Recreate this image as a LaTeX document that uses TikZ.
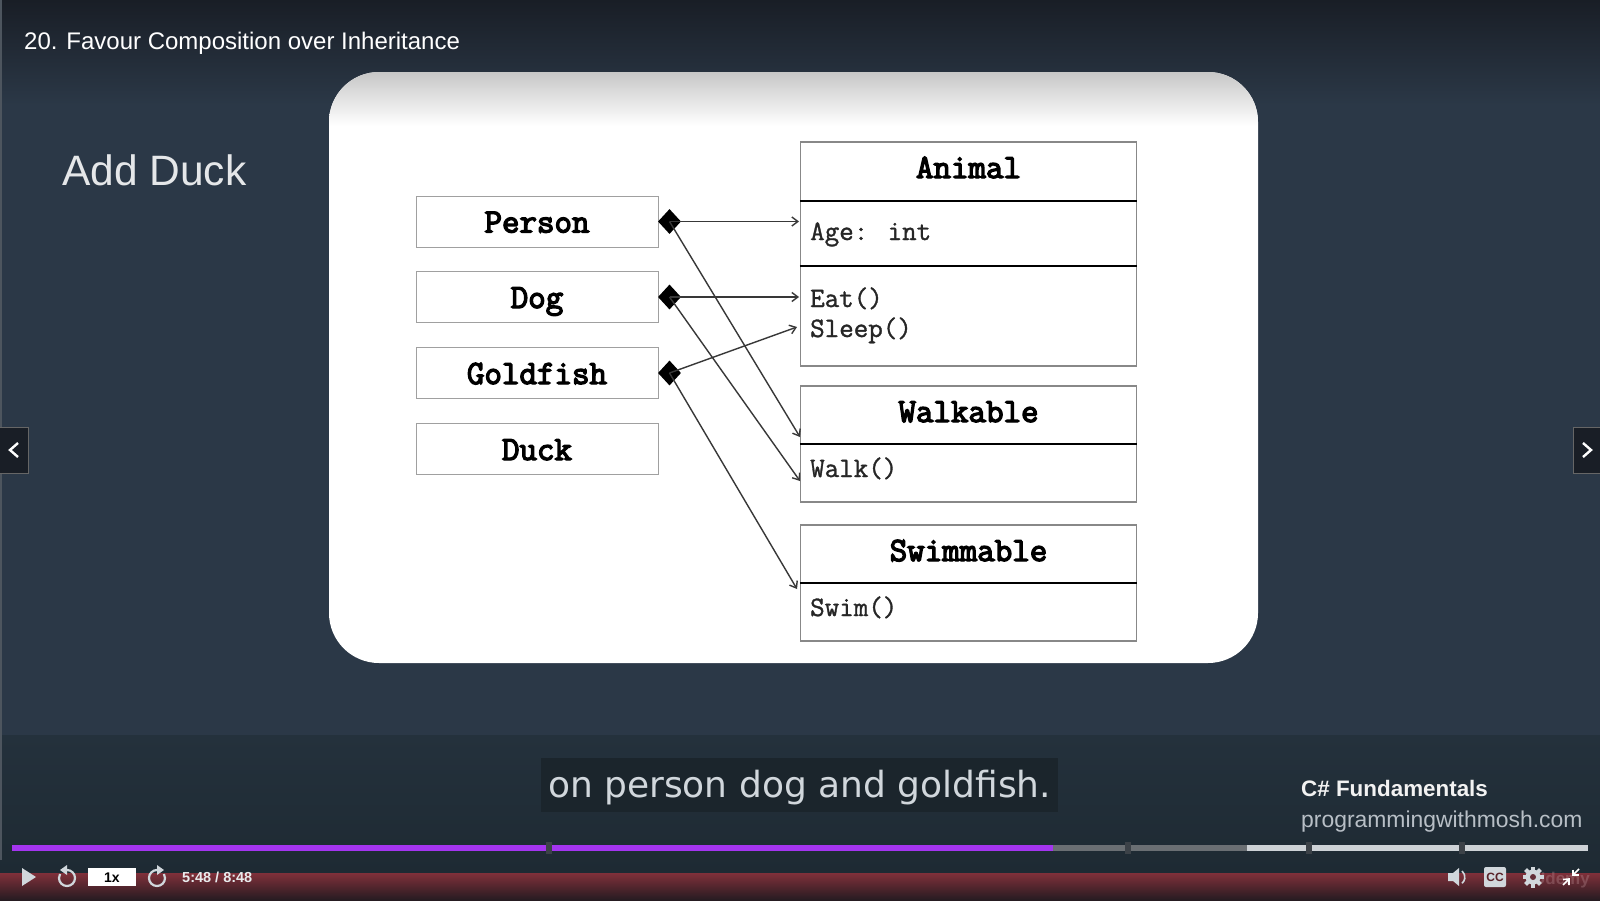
\documentclass[tikz,border=0pt]{standalone}
\usepackage{fontspec}
\usepackage{xcolor}
\setmainfont{Liberation Sans}
\newfontfamily\capfont{DejaVu Sans}
\newfontfamily\classfont[FakeBold=4]{Latin Modern Mono}
\newfontfamily\memberfont[FakeBold=1.2]{Latin Modern Mono}
\usetikzlibrary{shapes.geometric,arrows.meta}

\definecolor{slidebg}{HTML}{2B3847}
\definecolor{slidetop}{HTML}{191E26}
\definecolor{bandbg}{HTML}{24313C}
\definecolor{bandlow}{HTML}{1E2A33}
\definecolor{redtop}{HTML}{80303A}
\definecolor{redmid}{HTML}{55252D}
\definecolor{redlow}{HTML}{261B21}
\definecolor{captionbg}{HTML}{1B252C}
\definecolor{playerpurple}{HTML}{A435F0}
\definecolor{barlight}{HTML}{CDD2D6}
\definecolor{bargrey}{HTML}{6A6F73}
\definecolor{tickdark}{HTML}{3C4248}
\definecolor{icongrey}{HTML}{D1D7DC}
\definecolor{boxgrey}{HTML}{A0A0A0}

\tikzset{
	plainbox/.style={draw=boxgrey, line width=1, fill=white, minimum width=242, minimum height=51, inner sep=0, text height=22, text depth=0, font=\classfont\fontsize{34}{34}\selectfont},
	classbox/.style={draw=boxgrey!85!black, line width=1.2, fill=white, minimum width=336, inner sep=0},
	classname/.style={anchor=base, inner sep=0, font=\classfont\fontsize{34}{34}\selectfont},
	member/.style={anchor=base west, inner sep=0, text=black!85, font=\memberfont\fontsize{28.2}{28.2}\selectfont},
	divider/.style={line width=1.3, black},
	owner/.style={diamond, fill=black, minimum width=23, minimum height=25, inner sep=0},
	uses/.style={-{Straight Barb[length=6,width=9]}, line width=1.4, black!78},
	tickmark/.style={fill=tickdark},
	navbox/.style={fill=slidetop, draw=black!60},
	chevron/.style={white, line width=2.4},
	icon/.style={icongrey, line width=2.2}
}

\begin{document}
\begin{tikzpicture}[x=1pt,y=-1pt]

\useasboundingbox (0,0) rectangle (1600,900);

% backdrop
\fill[slidebg] (0,0) rectangle (1600,735);
\shade[top color=slidetop, bottom color=slidebg] (0,0) rectangle (1600,105);
\shade[top color=bandbg, bottom color=bandlow] (0,735) rectangle (1600,873);
\shade[top color=redtop, middle color=redmid, bottom color=redlow] (0,873) rectangle (1600,900);
\fill[gray!40!slidebg] (0,0) rectangle (1.5,860);

\node[anchor=base west, inner sep=0, white, font=\fontsize{24}{24}\selectfont] (lessonTitle) at (24,49) {20. Favour Composition over Inheritance};
\node[anchor=base west, inner sep=0, text=white!88!slidebg, font=\fontsize{42.5}{42.5}\selectfont] (slideTitle) at (62,185) {Add Duck};

% white panel
\fill[white, rounded corners=50] (329,72) rectangle (1258,663);
\begin{scope}
	\clip[rounded corners=50] (329,72) rectangle (1258,663);
	\shade[top color=black!22, bottom color=white] (329,72) rectangle (1258,126);
\end{scope}

% left boxes
\foreach \name/\y/\word in {person/221.5/Person,dog/297/Dog,goldfish/373/Goldfish}{
	\node[plainbox] (\name) at (537,\y) {\word};
	\node[owner] (\name Own) at (669.5,\y) {};
}
\node[plainbox] (duck) at (537,449) {Duck};

% class boxes
\node[classbox, minimum height=224] (animal) at (968.5,254) {};
\node[classname] (animalName) at (968.5,178) {Animal};
\draw[divider] (animal.west |- 0,201) -- (animal.east |- 0,201);
\draw[divider] (animal.west |- 0,266) -- (animal.east |- 0,266);
\node[member] (age) at (810,240) {Age: int};
\node[member] (eat) at (810,307) {Eat()};
\node[member] (sleep) at (810,337) {Sleep()};

\node[classbox, minimum height=116] (walkable) at (968.5,444) {};
\node[classname] (walkableName) at (968.5,422) {Walkable};
\draw[divider] (walkable.west |- 0,444) -- (walkable.east |- 0,444);
\node[member] (walk) at (810,477) {Walk()};

\node[classbox, minimum height=116] (swimmable) at (968.5,583) {};
\node[classname] (swimmableName) at (968.5,561) {Swimmable};
\draw[divider] (swimmable.west |- 0,583) -- (swimmable.east |- 0,583);
\node[member] (swim) at (810,616) {Swim()};

% arrow ends
\coordinate (toAge) at (799,221.5);
\coordinate (toEat) at (799,297);
\coordinate (toSleep) at (797,327);
\coordinate (toWalkA) at (800,437);
\coordinate (toWalkB) at (800,481);
\coordinate (toSwim) at (797,589);

\draw[uses] (personOwn.center) -- (toAge);
\draw[uses] (personOwn.center) -- (toWalkA);
\draw[uses] (dogOwn.center) -- (toEat);
\draw[uses] (dogOwn.center) -- (toWalkB);
\draw[uses] (goldfishOwn.center) -- (toSleep);
\draw[uses] (goldfishOwn.center) -- (toSwim);

% caption
\node[fill=captionbg, text=icongrey, inner sep=0, minimum width=517, minimum height=54, text height=33, text depth=9, font=\capfont\fontsize{36}{36}\selectfont] (caption) at (799.5,785) {on person dog and goldfish.};
\node[anchor=base west, inner sep=0, white!95!black, font=\bfseries\fontsize{22.4}{22.4}\selectfont] (courseName) at (1301,796) {C\# Fundamentals};
\node[anchor=base west, inner sep=0, text=icongrey!85!slidebg, font=\fontsize{22.9}{22.9}\selectfont] (courseSite) at (1301,827) {programmingwithmosh.com};

% progress bar
\fill[barlight] (1247,845) rectangle (1588,851);
\fill[bargrey] (1053,845) rectangle (1247,851);
\fill[playerpurple] (12,845) rectangle (1053,851);
\foreach \x in {549,1127.5,1309,1462}{
	\fill[tickmark] (\x-3,842) rectangle (\x+3,854);
}

% nav buttons
\fill[navbox] (-1,427) rectangle (28,473);
\fill[navbox] (1573,427) rectangle (1601,473);
\draw[chevron] (18,443)--(10,450)--(18,457);
\draw[chevron] (1583,443)--(1591,450)--(1583,457);

% player controls
\fill[icongrey] (22,868)--(36,877)--(22,886)--cycle;
\draw[icon] (67,870) arc[start angle=-90, end angle=210, radius=8];
\fill[icongrey] (67,865)--(67,875)--(60,870)--cycle;
\fill[white] (88,868) rectangle (136,886);
\node[inner sep=0, black, font=\bfseries\fontsize{14}{14}\selectfont] (speedLabel) at (112,877.5) {1x};
\draw[icon] (157,870) arc[start angle=-90, end angle=-390, radius=8];
\fill[icongrey] (157,865)--(157,875)--(164,870)--cycle;
\node[anchor=base west, inner sep=0, text=icongrey!50!white, font=\bfseries\fontsize{14.5}{14.5}\selectfont] (timeLabel) at (182,882) {5:48 / 8:48};

% right side icons
\node[anchor=base east, inner sep=0, text=white!45!redtop, opacity=0.35, font=\bfseries\fontsize{17}{17}\selectfont] (brand) at (1590,884) {Udemy};
\fill[icongrey] (1448,873)--(1453,873)--(1459,868)--(1459,886)--(1453,881)--(1448,881)--cycle;
\draw[icongrey, line width=1.6] (1462,871) arc[start angle=-50, end angle=50, radius=8];
\fill[icongrey, rounded corners=2] (1484,867) rectangle (1506,887);
\node[inner sep=0, text=redtop!70!black, font=\bfseries\fontsize{12}{12}\selectfont] (ccLabel) at (1495,877) {CC};
\fill[icongrey] (1533,877) circle (7.5);
\foreach \a in {0,45,...,315}{
	\fill[icongrey, rotate around={\a:(1533,877)}] (1531,866.5) rectangle (1535,871);
}
\fill[redtop!70!bandlow] (1533,877) circle (3);
\draw[white, line width=1.6] (1563,885)--(1569,879);
\draw[white, line width=1.6] (1563,879.5)--(1569,879)--(1569,885);
\draw[white, line width=1.6] (1579,869)--(1573,875);
\draw[white, line width=1.6] (1573,869.5)--(1573,875)--(1579,875);

\end{tikzpicture}
\end{document}
